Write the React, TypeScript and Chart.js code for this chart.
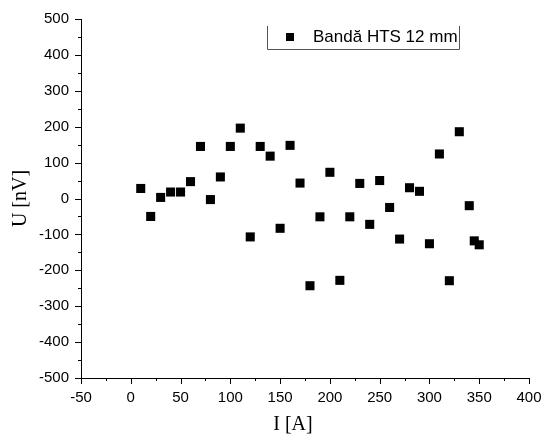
import React, { useEffect, useRef } from 'react';
import { Chart, registerables } from 'chart.js';

Chart.register(...registerables);

// Data
const currentA = [10, 20, 30, 40, 50, 60, 70, 80, 90, 100, 110, 120, 130, 140, 150, 160, 170, 180, 190, 200, 210, 220, 230, 240, 250, 260, 270, 280, 290, 300, 310, 320, 330, 340, 345, 350];
const voltageNV = [28, -50, 3, 18, 18, 47, 145, -3, 60, 145, 196, -107, 145, 118, -83, 148, 43, -243, -51, 73, -228, -51, 42, -72, 50, -25, -113, 30, 20, -126, 124, -229, 186, -20, -118, -129];

const seriesLabel = 'Bandă HTS 12 mm';
const xTitle = 'I [A]';
const yTitle = 'U [nV]';
const xMin = -50;
const xMax = 400;
const xStep = 50;
const yMin = -500;
const yMax = 500;
const yStep = 100;

const SANS = "'Liberation Sans', Arial, sans-serif";
const SERIF = "'Liberation Serif', 'Times New Roman', serif";

export default function App() {
  const ref = useRef<HTMLCanvasElement>(null);

  useEffect(() => {
    if (!ref.current) return;
    const overlay = {
      id: 'overlay',
      afterDraw(chart: any) {
        const ctx = chart.ctx as CanvasRenderingContext2D;
        const xs = chart.scales.x;
        const ys = chart.scales.y;
        const area = chart.chartArea;
        ctx.save();
        // major + minor ticks
        ctx.strokeStyle = '#000';
        ctx.lineWidth = 1;
        ctx.beginPath();
        for (let v = xMin; v <= xMax; v += xStep / 2) {
          const major = (v - xMin) % xStep === 0;
          const px = Math.round(xs.getPixelForValue(v)) + 0.5;
          ctx.moveTo(px, area.bottom);
          ctx.lineTo(px, area.bottom + (major ? 6 : 3));
        }
        for (let v = yMin; v <= yMax; v += yStep / 2) {
          const major = (v - yMin) % yStep === 0;
          const py = Math.round(ys.getPixelForValue(v)) + 0.5;
          ctx.moveTo(area.left - (major ? 6 : 3), py);
          ctx.lineTo(area.left, py);
        }
        ctx.stroke();

        // x axis title
        ctx.fillStyle = '#000';
        ctx.font = `20px ${SERIF}`;
        ctx.textAlign = 'center';
        ctx.textBaseline = 'middle';
        ctx.fillText(xTitle, 293, 425);

        // legend box
        ctx.strokeStyle = '#555';
        ctx.beginPath();
        ctx.moveTo(267.5, 26);
        ctx.lineTo(267.5, 49.5);
        ctx.lineTo(459.5, 49.5);
        ctx.lineTo(459.5, 26);
        ctx.stroke();
        ctx.fillStyle = '#000';
        ctx.fillRect(286, 33, 8, 8);
        ctx.font = `17px ${SANS}`;
        ctx.textAlign = 'left';
        ctx.textBaseline = 'middle';
        ctx.fillText(seriesLabel, 313, 37.5);
        ctx.restore();
      },
    };

    const chart = new Chart(ref.current, {
      type: 'scatter',
      data: {
        datasets: [
          {
            label: seriesLabel,
            data: currentA.map((x, i) => ({ x, y: voltageNV[i] })),
            pointStyle: 'rect',
            pointRadius: 6.4,
            pointHoverRadius: 6.4,
            backgroundColor: '#000',
            borderColor: '#000',
            borderWidth: 0,
          },
        ],
      },
      options: {
        animation: false,
        responsive: false,
        maintainAspectRatio: false,
        layout: { padding: { left: 0, right: 14, top: 19, bottom: 0 } },
        plugins: { legend: { display: false }, tooltip: { enabled: false } },
        scales: {
          x: {
            type: 'linear',
            min: xMin,
            max: xMax,
            afterFit: (s: any) => {
              s.height = 58;
              s.paddingLeft = 0;
              s.paddingRight = 0;
            },
            ticks: {
              stepSize: xStep,
              autoSkip: false,
              maxRotation: 0,
              padding: 5,
              color: '#000',
              font: { family: SANS, size: 15 },
            },
            grid: { drawOnChartArea: false, drawTicks: true, tickLength: 6, tickColor: 'rgba(0,0,0,0)', tickWidth: 1 },
            border: { display: true, color: '#000', width: 1 },
          },
          y: {
            type: 'linear',
            min: yMin,
            max: yMax,
            afterFit: (s: any) => {
              s.width = 81;
              s.paddingTop = 0;
              s.paddingBottom = 0;
            },
            ticks: {
              stepSize: yStep,
              autoSkip: false,
              padding: 6,
              color: '#000',
              font: { family: SANS, size: 15 },
            },
            grid: { drawOnChartArea: false, drawTicks: true, tickLength: 6, tickColor: 'rgba(0,0,0,0)', tickWidth: 1 },
            border: { display: true, color: '#000', width: 1 },
            title: {
              display: true,
              text: yTitle,
              color: '#000',
              font: { family: SERIF, size: 20 },
              padding: { top: 9, bottom: 0 },
            },
          },
        },
      },
      plugins: [overlay],
    });
    return () => chart.destroy();
  }, []);

  return (
    <div style={{ position: 'absolute', left: 0, top: 0, width: 543, height: 436, background: '#fff' }}>
      <canvas ref={ref} width={543} height={436} style={{ display: 'block', width: 543, height: 436 }} />
    </div>
  );
}
